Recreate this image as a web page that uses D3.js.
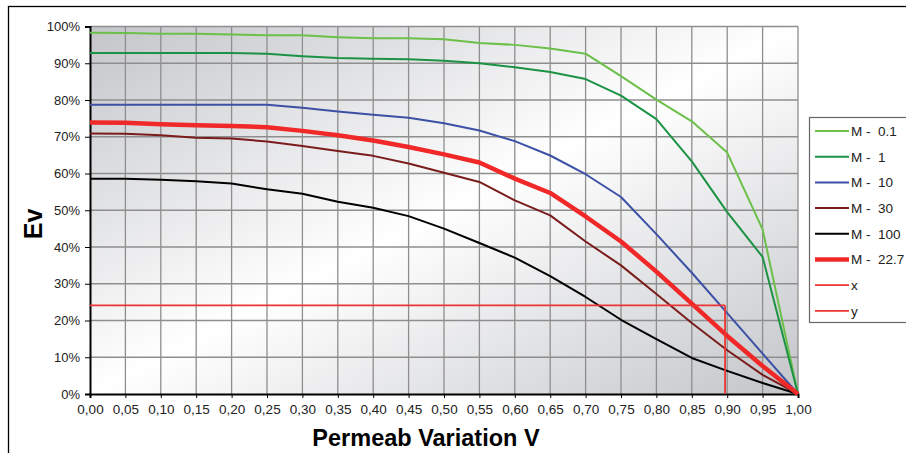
<!DOCTYPE html>
<html>
<head>
<meta charset="utf-8">
<script src="https://cdn.jsdelivr.net/npm/d3@7"></script>
<style>
    body { margin: 0; background: #fff; }
    text { font-family: "Liberation Sans", Arial, sans-serif; }
</style>
</head>
<body>
<div id="chart"></div>
<script>
// x values (permeability variation V)
var vValues = [0, 0.05, 0.10, 0.15, 0.20, 0.25, 0.30, 0.35, 0.40, 0.45, 0.50,
    0.55, 0.60, 0.65, 0.70, 0.75, 0.80, 0.85, 0.90, 0.95, 1.00];

// Ev in percent, one array per mobility ratio
var m01 = [98.3, 98.2, 98.0, 98.0, 97.8, 97.6, 97.6, 97.1, 96.8, 96.8, 96.5,
    95.5, 95.0, 94.0, 92.6, 86.5, 80.1, 74.2, 65.7, 44.8, 0];
var m1 = [92.8, 92.8, 92.8, 92.8, 92.8, 92.6, 91.9, 91.4, 91.2, 91.1, 90.7,
    90.0, 88.9, 87.6, 85.7, 81.2, 74.8, 63.3, 49.5, 37.3, 0];
var m10 = [78.7, 78.7, 78.7, 78.7, 78.7, 78.7, 77.9, 76.9, 76.0, 75.2, 73.7,
    71.7, 68.8, 64.9, 59.8, 53.6, 43.5, 33.0, 22.0, 11.0, 0];
var m30 = [70.9, 70.8, 70.4, 69.7, 69.5, 68.7, 67.5, 66.1, 64.8, 62.7, 60.2,
    57.7, 52.7, 48.6, 41.5, 35.0, 27.2, 19.3, 11.9, 5.2, 0];
var m100 = [58.6, 58.6, 58.3, 57.9, 57.3, 55.7, 54.5, 52.3, 50.7, 48.4, 45.0,
    41.1, 37.1, 32.1, 26.4, 20.2, 14.9, 9.8, 6.3, 3.0, 0];
var m227 = [73.9, 73.8, 73.4, 73.1, 72.9, 72.6, 71.6, 70.4, 69.0, 67.2, 65.2,
    63.0, 58.6, 54.7, 48.3, 41.5, 33.3, 24.6, 15.8, 7.6, 0];

// reading lines for M = 22.7
var xLine = [[0, 24.1], [0.897, 24.1]];
var yLine = [[0.897, 24.1], [0.897, 0]];

var xTicks = d3.range(0, 21).map(function (i) { return i * 0.05; });
var yTicks = d3.range(0, 11).map(function (i) { return i / 10; });

function pts(vals) {
    return vals.map(function (v, i) { return [vValues[i], v]; });
}

var series = [
    { name: "M -  0.1", data: pts(m01), color: "#6cc04a", width: 2 },
    { name: "M -  1", data: pts(m1), color: "#1c9245", width: 2 },
    { name: "M -  10", data: pts(m10), color: "#3c50a5", width: 2 },
    { name: "M -  30", data: pts(m30), color: "#7a1c1c", width: 2 },
    { name: "M -  100", data: pts(m100), color: "#000000", width: 2 },
    { name: "M -  22.7", data: pts(m227), color: "#f02828", width: 4.5 },
    { name: "x", data: xLine, color: "#ec3434", width: 1.8 },
    { name: "y", data: yLine, color: "#ec3434", width: 1.8 }
];

function drawChart() {
    var width = 906, height = 453;
    var plotLeft = 90, plotRight = 798, plotTop = 26.5, plotBottom = 394;

    var svg = d3.select("#chart").append("svg")
        .attr("width", width)
        .attr("height", height);

    // outer frame
    svg.append("rect")
        .attr("x", 8.5).attr("y", 6.5)
        .attr("width", 920).attr("height", 470)
        .attr("fill", "#fff")
        .attr("stroke", "#000")
        .attr("stroke-width", 1.3);

    var xScale = d3.scaleLinear().domain([0, 1]).range([plotLeft, plotRight]);
    var yScale = d3.scaleLinear().domain([0, 1]).range([plotBottom, plotTop]);

    var defs = svg.append("defs");
    var grad = defs.append("linearGradient")
        .attr("id", "bg")
        .attr("x1", 0).attr("y1", 0).attr("x2", 1).attr("y2", 1);
    grad.append("stop").attr("offset", "0").attr("stop-color", "#c3c5c9");
    grad.append("stop").attr("offset", "0.5").attr("stop-color", "#ffffff");
    grad.append("stop").attr("offset", "1").attr("stop-color", "#c3c5c9");

    svg.append("rect")
        .attr("x", plotLeft).attr("y", plotTop)
        .attr("width", plotRight - plotLeft).attr("height", plotBottom - plotTop)
        .attr("fill", "url(#bg)");

    // grid
    svg.append("g").selectAll("line")
        .data(xTicks.slice(1))
        .enter().append("line")
        .attr("x1", function (d) { return xScale(d); })
        .attr("x2", function (d) { return xScale(d); })
        .attr("y1", plotTop).attr("y2", plotBottom)
        .attr("stroke", "#8e8e8e").attr("stroke-width", 1.3);

    svg.append("g").selectAll("line")
        .data(yTicks.slice(1))
        .enter().append("line")
        .attr("x1", plotLeft).attr("x2", plotRight)
        .attr("y1", function (d) { return yScale(d); })
        .attr("y2", function (d) { return yScale(d); })
        .attr("stroke", "#8e8e8e").attr("stroke-width", 1.3);

    // axes
    var xAxis = d3.axisBottom(xScale)
        .tickValues(xTicks)
        .tickSize(4)
        .tickFormat(function (d) { return d3.format(".2f")(d).replace(".", ","); });

    var gx = svg.append("g")
        .attr("transform", "translate(0," + plotBottom + ")")
        .call(xAxis);
    gx.select(".domain").attr("stroke-width", 2);
    gx.selectAll("text").attr("font-size", 13.5).attr("fill", "#222").attr("dy", "0.95em");

    var yAxis = d3.axisLeft(yScale)
        .tickValues(yTicks)
        .tickSize(5)
        .tickFormat(d3.format(".0%"));

    var gy = svg.append("g")
        .attr("transform", "translate(" + plotLeft + ",0)")
        .call(yAxis);
    gy.select(".domain").attr("stroke-width", 2);
    gy.selectAll("text").attr("font-size", 13).attr("fill", "#222").attr("x", -10);

    // lines
    var line = d3.line()
        .x(function (d) { return xScale(d[0]); })
        .y(function (d) { return yScale(d[1] / 100); });

    svg.append("g").selectAll("path")
        .data(series)
        .enter().append("path")
        .attr("d", function (d) { return line(d.data); })
        .attr("fill", "none")
        .attr("stroke", function (d) { return d.color; })
        .attr("stroke-width", function (d) { return d.width; })
        .attr("stroke-linejoin", "round");

    // axis labels
    svg.append("text")
        .attr("x", 426).attr("y", 446)
        .attr("text-anchor", "middle")
        .attr("font-size", 23.5).attr("font-weight", "bold")
        .text("Permeab Variation V");

    svg.append("text")
        .attr("transform", "translate(42,224) rotate(-90)")
        .attr("text-anchor", "middle")
        .attr("font-size", 25).attr("font-weight", "bold")
        .text("Ev");

    // legend
    var legend = svg.append("g");
    legend.append("rect")
        .attr("x", 809.5).attr("y", 117.5)
        .attr("width", 120).attr("height", 205)
        .attr("fill", "#fff")
        .attr("stroke", "#666").attr("stroke-width", 1.2);

    var item = legend.selectAll("g")
        .data(series)
        .enter().append("g")
        .attr("transform", function (d, i) { return "translate(0," + (131 + i * 25.7) + ")"; });

    item.append("line")
        .attr("x1", 815).attr("x2", 849)
        .attr("stroke", function (d) { return d.color; })
        .attr("stroke-width", function (d) { return d.width; });

    item.append("text")
        .attr("x", 851).attr("dy", "0.36em")
        .attr("font-size", 13.5).attr("fill", "#222")
        .style("white-space", "pre")
        .text(function (d) { return d.name; });
}

drawChart();
</script>
</body>
</html>
